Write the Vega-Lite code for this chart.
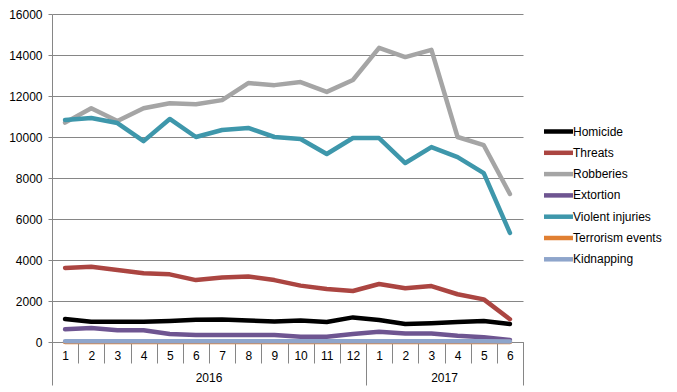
{
  "$schema": "https://vega.github.io/schema/vega-lite/v6.json",
  "width": 471,
  "height": 328,
  "autosize": "none",
  "padding": {"left": 52, "top": 14, "right": 154, "bottom": 50},
  "background": "white",
  "config": {
    "view": {"stroke": null},
    "font": "Liberation Sans",
    "axis": {"labelFont": "Liberation Sans", "labelFontSize": 12, "labelColor": "#000000", "title": null},
    "legend": {"labelFont": "Liberation Sans", "labelFontSize": 12, "labelColor": "#000000"}
  },
  "data": {
    "values": [
      {"p": "2016-1", "Homicide": 1120, "Threats": 3610, "Robberies": 10700, "Extortion": 620, "Violent injuries": 10830, "Terrorism events": 5, "Kidnapping": 40},
      {"p": "2016-2", "Homicide": 990, "Threats": 3670, "Robberies": 11400, "Extortion": 680, "Violent injuries": 10930, "Terrorism events": 5, "Kidnapping": 40},
      {"p": "2016-3", "Homicide": 990, "Threats": 3510, "Robberies": 10780, "Extortion": 570, "Violent injuries": 10680, "Terrorism events": 5, "Kidnapping": 40},
      {"p": "2016-4", "Homicide": 990, "Threats": 3350, "Robberies": 11400, "Extortion": 570, "Violent injuries": 9800, "Terrorism events": 5, "Kidnapping": 40},
      {"p": "2016-5", "Homicide": 1030, "Threats": 3300, "Robberies": 11650, "Extortion": 390, "Violent injuries": 10880, "Terrorism events": 5, "Kidnapping": 40},
      {"p": "2016-6", "Homicide": 1090, "Threats": 3020, "Robberies": 11600, "Extortion": 340, "Violent injuries": 10000, "Terrorism events": 5, "Kidnapping": 40},
      {"p": "2016-7", "Homicide": 1100, "Threats": 3150, "Robberies": 11800, "Extortion": 340, "Violent injuries": 10340, "Terrorism events": 5, "Kidnapping": 40},
      {"p": "2016-8", "Homicide": 1050, "Threats": 3200, "Robberies": 12630, "Extortion": 340, "Violent injuries": 10440, "Terrorism events": 5, "Kidnapping": 40},
      {"p": "2016-9", "Homicide": 1000, "Threats": 3020, "Robberies": 12530, "Extortion": 340, "Violent injuries": 10000, "Terrorism events": 5, "Kidnapping": 40},
      {"p": "2016-10", "Homicide": 1050, "Threats": 2750, "Robberies": 12680, "Extortion": 260, "Violent injuries": 9900, "Terrorism events": 5, "Kidnapping": 40},
      {"p": "2016-11", "Homicide": 980, "Threats": 2590, "Robberies": 12200, "Extortion": 260, "Violent injuries": 9170, "Terrorism events": 5, "Kidnapping": 40},
      {"p": "2016-12", "Homicide": 1200, "Threats": 2490, "Robberies": 12780, "Extortion": 390, "Violent injuries": 9950, "Terrorism events": 5, "Kidnapping": 40},
      {"p": "2017-1", "Homicide": 1070, "Threats": 2830, "Robberies": 14350, "Extortion": 500, "Violent injuries": 9950, "Terrorism events": 5, "Kidnapping": 40},
      {"p": "2017-2", "Homicide": 880, "Threats": 2620, "Robberies": 13900, "Extortion": 420, "Violent injuries": 8730, "Terrorism events": 5, "Kidnapping": 40},
      {"p": "2017-3", "Homicide": 920, "Threats": 2730, "Robberies": 14250, "Extortion": 420, "Violent injuries": 9510, "Terrorism events": 5, "Kidnapping": 40},
      {"p": "2017-4", "Homicide": 980, "Threats": 2330, "Robberies": 10000, "Extortion": 310, "Violent injuries": 9020, "Terrorism events": 5, "Kidnapping": 40},
      {"p": "2017-5", "Homicide": 1020, "Threats": 2080, "Robberies": 9600, "Extortion": 230, "Violent injuries": 8240, "Terrorism events": 5, "Kidnapping": 35},
      {"p": "2017-6", "Homicide": 880, "Threats": 1110, "Robberies": 7220, "Extortion": 100, "Violent injuries": 5320, "Terrorism events": 5, "Kidnapping": 20}
    ]
  },
  "transform": [
    {"fold": ["Homicide", "Threats", "Robberies", "Extortion", "Violent injuries", "Terrorism events", "Kidnapping"], "as": ["series", "value"]}
  ],
  "layer": [
    {
      "mark": {"type": "line", "strokeWidth": 4.5, "strokeJoin": "round", "strokeCap": "round"},
      "encoding": {
        "x": {
          "field": "p", "type": "ordinal", "sort": null, "bandPosition": 0.5,
          "scale": {"type": "band", "paddingInner": 0, "paddingOuter": 0},
          "axis": {
            "orient": "bottom", "labelAngle": 0,
            "labelExpr": "indexof(datum.value + '', '-') > 0 ? substring(datum.value, 5) : ''",
            "tickBand": "extent", "tickSize": 21, "tickColor": "#868686", "domainColor": "#868686",
            "labelPadding": -12.5, "grid": false
          }
        },
        "y": {
          "field": "value", "type": "quantitative",
          "scale": {"domain": [0, 16000], "nice": false},
          "axis": {
            "values": [0, 2000, 4000, 6000, 8000, 10000, 12000, 14000, 16000], "format": "d",
            "grid": true, "gridColor": "#868686", "domainColor": "#868686", "tickColor": "#868686",
            "tickSize": 4, "labelPadding": 6
          }
        },
        "color": {
          "field": "series", "type": "nominal",
          "scale": {
            "domain": ["Homicide", "Threats", "Robberies", "Extortion", "Violent injuries", "Terrorism events", "Kidnapping"],
            "range": ["#000000", "#AB4541", "#A5A5A5", "#6E5591", "#3E97AB", "#E07F32", "#8EA5CB"]
          },
          "legend": {
            "title": null, "orient": "none", "legendX": 497, "legendY": 108, "padding": 0,
            "symbolType": "M-2,0H2", "symbolSize": 210, "symbolStrokeWidth": 4.5,
            "labelOffset": 5, "rowPadding": 2.3
          }
        }
      }
    },
    {
      "mark": {"type": "point", "opacity": 0},
      "encoding": {
        "x": {
          "field": "p", "type": "ordinal", "sort": null,
          "scale": {"type": "band", "paddingInner": 0, "paddingOuter": 0},
          "axis": {
            "orient": "bottom", "values": ["2016-6", "2017-3"], "labelExpr": "substring(datum.value, 0, 4)",
            "labelAngle": 0, "ticks": false, "domain": false, "labelOffset": 13.08, "labelPadding": 30.5, "grid": false
          }
        }
      }
    },
    {
      "mark": {"type": "point", "opacity": 0},
      "encoding": {
        "x": {
          "field": "p", "type": "ordinal", "sort": null,
          "scale": {"type": "band", "paddingInner": 0, "paddingOuter": 0},
          "axis": {
            "orient": "bottom", "values": ["2016-1", "2017-1"], "bandPosition": 0,
            "labels": false, "domain": false, "tickSize": 43, "tickColor": "#868686", "grid": false
          }
        }
      }
    },
    {
      "mark": {"type": "point", "opacity": 0},
      "encoding": {
        "x": {
          "field": "p", "type": "ordinal", "sort": null,
          "scale": {"type": "band", "paddingInner": 0, "paddingOuter": 0},
          "axis": {
            "orient": "bottom", "values": ["2017-6"], "bandPosition": 1,
            "labels": false, "domain": false, "tickSize": 43, "tickColor": "#868686", "grid": false
          }
        }
      }
    }
  ],
  "resolve": {"axis": {"x": "independent"}}
}
